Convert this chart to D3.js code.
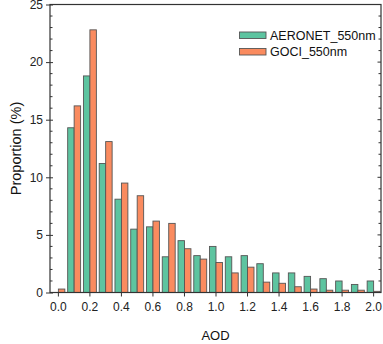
<!DOCTYPE html>
<html><head><meta charset="utf-8">
<script src="https://cdn.jsdelivr.net/npm/d3@7"></script>
<style>body{margin:0;background:#fff}svg{display:block}text{font-family:Arial,"Liberation Sans",sans-serif}</style>
</head><body><svg id="c" width="383" height="344"></svg>
<script>
const bins = [0.0,0.1,0.2,0.3,0.4,0.5,0.6,0.7,0.8,0.9,1.0,1.1,1.2,1.3,1.4,1.5,1.6,1.7,1.8,1.9,2.0];
const aeronet = [0,14.3,18.8,11.2,8.1,5.5,5.7,3.1,4.5,3.2,4.0,3.1,3.2,2.5,1.7,1.7,1.4,1.2,1.0,0.7,1.0];
const goci = [0.3,16.2,22.8,13.1,9.5,8.4,6.2,6.0,3.8,2.9,2.6,1.7,2.2,0.9,0.8,0.5,0.3,0.2,0.2,0.2,0.1];
const seriesNames = ["AERONET_550nm","GOCI_550nm"];
const colors = ["#5DC4A0","#FA8B5F"];
const xTicks = [0.0,0.2,0.4,0.6,0.8,1.0,1.2,1.4,1.6,1.8,2.0];
const yTicks = [0,5,10,15,20,25];

const svg = d3.select("#c");
const L=50, R=381, T=4.5, B=292.5;
const x = d3.scaleLinear().domain([-0.05,2.05]).range([L,R]);
const y = d3.scaleLinear().domain([0,25]).range([B,T]);
const bw = (x(0.1)-x(0))*0.41;

const g = svg.append("g");
const data = [aeronet, goci];
data.forEach((arr,si)=>{
  g.selectAll(".b"+si).data(bins).enter().append("rect")
    .attr("x", (d,i)=> x(d) + (si===0 ? -bw : 0) + 0.5)
    .attr("y", (d,i)=> y(arr[i]))
    .attr("width", bw)
    .attr("height", (d,i)=> Math.max(0, y(0)-y(arr[i])))
    .attr("fill", colors[si])
    .attr("stroke", "#555").attr("stroke-width", 0.9)
    .attr("display", (d,i)=> arr[i]>0 ? null : "none");
});

// frame
svg.append("rect").attr("x",L).attr("y",T).attr("width",R-L).attr("height",B-T)
  .attr("fill","none").attr("stroke","#333").attr("stroke-width",1.2);

// left axis
const yl = svg.append("g").attr("transform",`translate(${L},0)`)
  .call(d3.axisLeft(y).tickValues(yTicks).tickSize(4).tickPadding(3).tickFormat(d3.format("d")));
yl.select(".domain").remove();
yl.selectAll("text").attr("font-size",12).attr("fill","#222");
yl.selectAll(".tick line").attr("x1",3).attr("stroke","#333");
const minorY = d3.range(0,26,1).filter(v=>v%5!==0);
svg.append("g").selectAll("line").data(minorY).enter().append("line")
  .attr("x1",L).attr("x2",L+2.5).attr("y1",d=>y(d)).attr("y2",d=>y(d)).attr("stroke","#333");
// right axis ticks
svg.append("g").selectAll("line").data(d3.range(0,26,1)).enter().append("line")
  .attr("x1",R).attr("x2",d=> d%5===0? R-3.5 : R-2.5).attr("y1",d=>y(d)).attr("y2",d=>y(d)).attr("stroke","#333");

// bottom axis
const xb = svg.append("g").attr("transform",`translate(0,${B})`)
  .call(d3.axisBottom(x).tickValues(xTicks).tickSize(4).tickPadding(6).tickFormat(d3.format(".1f")));
xb.select(".domain").remove();
xb.selectAll("text").attr("font-size",12).attr("fill","#222");
xb.selectAll(".tick line").attr("stroke","#333");

// axis titles
svg.append("text").attr("transform",`translate(20.5,${(T+B)/2}) rotate(-90)`)
  .attr("text-anchor","middle").attr("font-size",14.5).attr("fill","#111").text("Proportion (%)");
svg.append("text").attr("x",(L+R)/2).attr("y",340).attr("text-anchor","middle")
  .attr("font-size",13).attr("fill","#111").text("AOD");

// legend
const lg = svg.append("g");
seriesNames.forEach((n,i)=>{
  const yy = 32 + i*16.5;
  lg.append("rect").attr("x",239.5).attr("y",yy).attr("width",26.5).attr("height",6.5)
    .attr("fill",colors[i]).attr("stroke","#555").attr("stroke-width",0.9);
  lg.append("text").attr("x",270).attr("y",yy+7.8).attr("font-size",12.5).attr("fill","#111").text(n);
});
</script></body></html>
